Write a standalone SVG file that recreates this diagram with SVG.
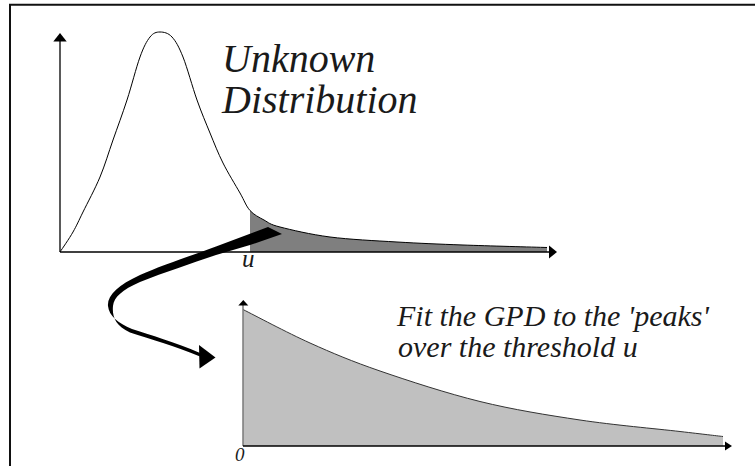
<svg xmlns="http://www.w3.org/2000/svg" width="755" height="466" viewBox="0 0 755 466">
<style>
.axis{stroke:#000;stroke-width:1.3;fill:none}
.curve{stroke:#000;stroke-width:1;fill:none}
.lbl{font-family:'Liberation Serif','Times New Roman',serif;font-style:italic;fill:#1a1a1a}
</style>
<rect x="0" y="0" width="755" height="466" fill="#fff"/>
<g id="frame">
<path d="M10,466 V4.7 H755" fill="none" stroke="#111" stroke-width="2"/>
</g>
<g id="top-chart">
<path d="M250,252 L250,210.5 C254,215 259,217.25 264,220 C269,222.75 269,224.2 280,227 C291,229.8 310.5,234.5 330,237 C349.5,239.5 374.8,240.7 397,242 C419.2,243.3 438,244.1 463,245 C488,245.9 533,247.1 547,247.5 L547,252 Z" fill="#7f7f7f"/>
<path class="curve" d="M60,252 C62.2,248.7 69.2,238.7 73,232 C76.8,225.3 78.5,221.2 83,212 C87.5,202.8 95,189 100,177 C105,165 108.5,152.8 113,140 C117.5,127.2 122.5,113.8 127,100 C131.5,86.2 136.2,67.5 140,57 C143.8,46.5 146.7,41.2 150,37 C153.3,32.8 156.3,32 160,32 C163.7,32 168.2,32.8 172,37 C175.8,41.2 178.8,46.5 183,57 C187.2,67.5 192.5,87.3 197,100 C201.5,112.7 205.7,122.5 210,133 C214.3,143.5 218,153 223,163 C228,173 235.5,185.1 240,193 C244.5,200.9 246,206 250,210.5 C254,215 259,217.25 264,220 C269,222.75 269,224.2 280,227 C291,229.8 310.5,234.5 330,237 C349.5,239.5 374.8,240.7 397,242 C419.2,243.3 438,244.1 463,245 C488,245.9 533,247.1 547,247.5"/>
<path class="axis" d="M60,252 V40"/>
<polygon points="60,33 53.3,41.5 66.7,41.5" fill="#000"/>
<path class="axis" d="M60,252 H550"/>
<polygon points="557,252 549,245.5 549,258.5" fill="#000"/>
<text class="lbl" x="242" y="267" font-size="25">u</text>
<text class="lbl" x="222" y="72" font-size="40">Unknown</text>
<text class="lbl" x="222" y="113" font-size="40">Distribution</text>
</g>
<g id="bottom-chart">
<path d="M243,446 L243,309.5 C254.2,315.1 287.2,332.75 310,343 C332.8,353.25 351.7,361.25 380,371 C408.3,380.75 446.7,393.3 480,401.5 C513.3,409.7 546.7,415 580,420 C613.3,425 656.2,428.75 680,431.5 C703.8,434.25 715.8,435.7 723,436.5 L723,446 Z" fill="#c0c0c0"/>
<path d="M243,309.5 C254.2,315.1 287.2,332.75 310,343 C332.8,353.25 351.7,361.25 380,371 C408.3,380.75 446.7,393.3 480,401.5 C513.3,409.7 546.7,415 580,420 C613.3,425 656.2,428.75 680,431.5 C703.8,434.25 715.8,435.7 723,436.5" fill="none" stroke="#333" stroke-width="1"/>
<path d="M243,446 V305" fill="none" stroke="#7a7a7a" stroke-width="1.5"/>
<polygon points="243.3,300 238.3,305.5 248.3,305.5" fill="#000"/>
<path class="axis" d="M243,446 H726"/>
<polygon points="732,446 725,441.5 725,450.5" fill="#000"/>
<text class="lbl" x="235" y="461" font-size="19">0</text>
<text class="lbl" x="397" y="326" font-size="30">Fit the GPD to the 'peaks'</text>
<text class="lbl" x="398" y="357" font-size="30">over the threshold u</text>
</g>
<g id="connectors">
<path d="M268,227 L216,246.5 C185,258 160,266 140,275 C118,285 107,296 108,306 C109,316 118,323 132,329 C150,335 175,342 200,353 L200,356.5 C175,346 150,339 130,332.5 C115,326 112,316 113,306 C114,297 122,290 140,282 C165,272 190,264 216,255 L250,245 L282,234 Z" fill="#000"/>
<polygon points="199,345 215.5,357.5 199.5,368.5" fill="#000"/>
</g>
</svg>
